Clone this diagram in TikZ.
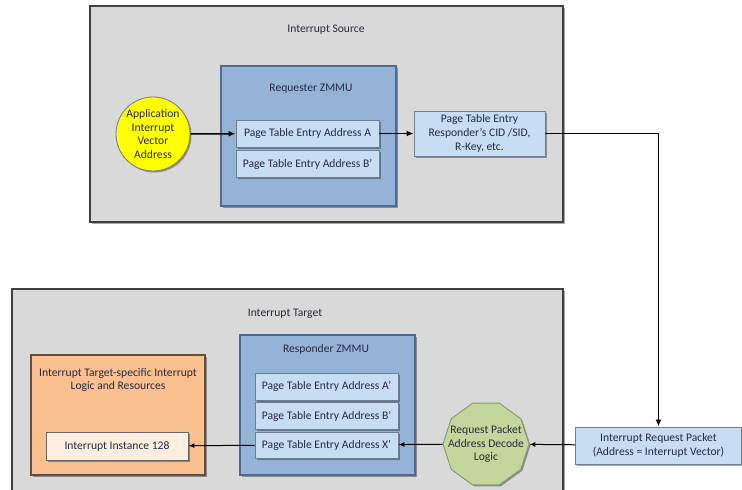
\documentclass[tikz,border=0pt]{standalone}
\usepackage{fontspec}
\setmainfont{Carlito}
\usepackage{xcolor}
\usepackage{tikz}
\usetikzlibrary{arrows.meta,shapes.geometric,shadows,positioning}

\definecolor{panelfill}{HTML}{D9D9D9}
\definecolor{panelline}{HTML}{404040}
\definecolor{zmmufill}{HTML}{95B3D7}
\definecolor{zmmuline}{HTML}{4F6A8F}
\definecolor{entryfill}{HTML}{C6DDF4}
\definecolor{entryline}{HTML}{6F7F90}
\definecolor{vecfill}{HTML}{FFFF00}
\definecolor{logicfill}{HTML}{FAC090}
\definecolor{logicline}{HTML}{5F5040}
\definecolor{instfill}{HTML}{FDEEDF}
\definecolor{decodefill}{HTML}{C3D69B}
\definecolor{decodeline}{HTML}{8A9A70}
\definecolor{labeltext}{HTML}{2A2A40}

\tikzset{
  base/.style={font=\fontsize{11.6}{13.8}\selectfont, text=labeltext, align=center, inner sep=1pt,
    drop shadow={shadow xshift=1.5pt, shadow yshift=-1.5pt, fill=black, opacity=.35}},
  panel/.style={base, draw=panelline, fill=panelfill, line width=1.4pt},
  zmmu/.style={base, draw=zmmuline, fill=zmmufill, line width=1.2pt},
  entry/.style={base, draw=entryline, fill=entryfill, line width=.9pt, minimum width=143pt},
  caption/.style={font=\fontsize{11.6}{13.8}\selectfont, text=labeltext, align=center, inner sep=0pt},
  flow/.style={-{Latex[length=7pt,width=6pt]}, line width=1.5pt},
  thinflow/.style={-{Latex[length=6pt,width=5pt]}, line width=1pt}
}

\begin{document}
\begin{tikzpicture}[x=1pt,y=-1pt]
  \useasboundingbox (0,0) rectangle (742,490);

  % interrupt source
  \node[panel, minimum width=473pt, minimum height=216pt] (srcbox) at (326.5,114) {};
  \node[caption] (srctitle) at (326,30) {Interrupt Source};
  \node[zmmu, minimum width=175pt, minimum height=140pt] (reqzmmu) at (308.5,136) {};
  \node[caption] (reqtitle) at (311,89) {Requester ZMMU};
  \node[entry, minimum height=27pt] (pteA) at (307.5,133.5) {Page Table Entry Address A};
  \node[entry, minimum height=27pt] (pteB) at (307.5,164) {Page Table Entry Address B’};
  \node[base, circle, draw=gray, fill=vecfill, line width=.9pt, minimum size=74pt, inner sep=0pt] (appvec) at (153,134)
    {Application\\Interrupt\\Vector\\Address};
  \node[entry, minimum width=131pt, minimum height=45pt] (ptebox) at (479.5,133.5)
    {Page Table Entry\\Responder’s CID /SID,\\R-Key, etc.};

  % interrupt target
  \node[panel, minimum width=551pt, minimum height=203pt] (tgtbox) at (287.5,390.5) {};
  \node[caption] (tgttitle) at (285,314) {Interrupt Target};
  \node[zmmu, minimum width=175pt, minimum height=140pt] (rspzmmu) at (327.5,405) {};
  \node[caption] (rsptitle) at (326,349) {Responder ZMMU};
  \node[entry, minimum height=27pt] (pteA2) at (326.5,386.5) {Page Table Entry Address A’};
  \node[entry, minimum height=27pt] (pteB2) at (326.5,416) {Page Table Entry Address B’};
  \node[entry, minimum height=26pt] (pteX) at (326.5,445) {Page Table Entry Address X’};
  \node[base, draw=logicline, fill=logicfill, line width=1.2pt, minimum width=174pt, minimum height=120pt] (logic) at (118,415) {};
  \node[caption] (logictitle) at (118,380) {Interrupt Target-specific Interrupt\\Logic and Resources};
  \node[base, draw=gray!80!black, fill=instfill, line width=.9pt, minimum width=142pt, minimum height=28pt] (inst) at (117,446)
    {Interrupt Instance 128};
  \node[base, regular polygon, regular polygon sides=10, draw=decodeline, fill=decodefill, line width=.9pt,
    minimum size=86pt, inner sep=0pt] (decode) at (486,444) {};
  \node[caption] (decodetext) at (486,444) {Request Packet\\Address Decode\\Logic};
  \node[entry, minimum width=166pt, minimum height=37pt] (irp) at (658.5,445.5)
    {Interrupt Request Packet\\(Address = Interrupt Vector)};

  % connectors
  \draw[flow] (appvec) -- (pteA);
  \draw[flow] (pteA) -- (ptebox);
  \draw[flow] (ptebox.east) -| (irp.north);
  \draw[thinflow] (irp) -- (decode);
  \draw[thinflow] (decode) -- (pteX);
  \draw[thinflow] (pteX) -- (inst);
\end{tikzpicture}
\end{document}
